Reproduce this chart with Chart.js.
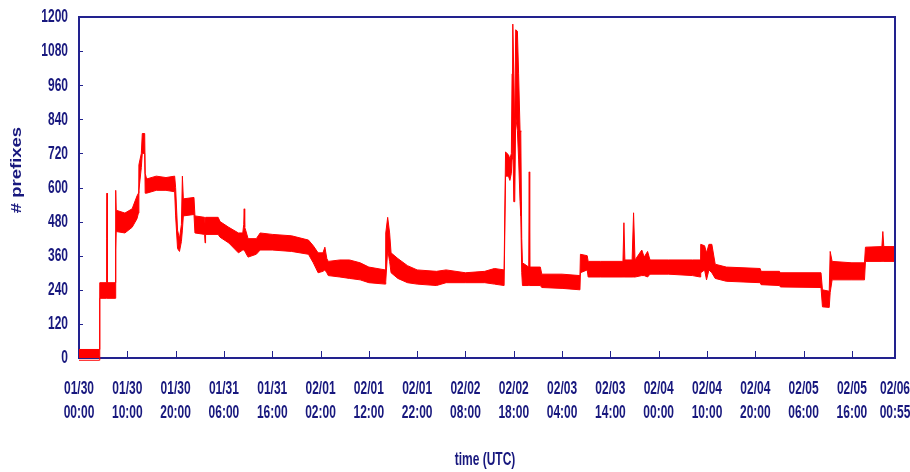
<!DOCTYPE html>
<html>
<head>
<meta charset="utf-8">
<script src="https://cdn.jsdelivr.net/npm/chart.js@4.4.0/dist/chart.umd.min.js"></script>
<style>
  html, body { margin: 0; padding: 0; background: #fff; }
  canvas { display: block; }
</style>
</head>
<body>
<canvas id="prefixChart" width="910" height="472"></canvas>
<script>
// hours since 01/30 00:00 UTC, with the top and bottom of the noisy band
const hours = [
  0, 4.2, 4.3, 5.7, 5.75, 5.8, 5.85, 7.5, 7.6, 7.7, 9.5, 11, 12, 12.3, 12.4, 12.9, 13.1, 13.6, 13.7,
  14, 16, 18, 19.8, 20.0, 20.4, 20.8, 21.2, 21.4, 21.6, 23.8, 24, 26, 26.1, 26.2, 28.8, 29.2, 31, 33, 33.9,
  34.1, 34.2, 34.3, 34.5, 35, 36.7, 37.5, 40, 44, 47.5, 48.5, 49.5, 50.5, 50.9, 51.3, 51.6, 54, 56, 58.2,
  60, 63.4, 63.5, 63.9, 64.3, 64.6, 66, 68, 70, 74, 76, 80, 84, 86, 88,
  88.3, 88.9, 89.2, 89.5, 89.65, 89.8, 90.0, 90.2, 90.4, 90.75, 91.0, 91.3, 91.45, 91.65, 91.8,
  93.1, 93.2, 93.3, 95.5, 95.8, 100, 103.7, 103.8, 105.2, 105.4, 108, 112.6, 112.8, 113,
  114.5, 114.8, 115.1, 116.5, 117.0, 117.7, 118.2, 122, 127, 128.6, 128.7, 129.5, 129.9, 130.4, 131, 131.7,
  134, 141, 141.2, 145, 145.2, 153.6, 153.9, 155.3, 155.5, 155.9, 160, 162.6, 162.8, 166.2, 166.4, 166.6, 168.9
];
const upper = [
  30, 30, 265, 265, 420, 580, 265, 265, 590, 520, 510, 525, 570, 580, 680, 720, 790, 790, 650,
  630, 640, 635, 640, 600, 450, 420, 470, 640, 560, 565, 500, 495, 470, 495, 495, 480, 460, 440, 440,
  470, 525, 460, 450, 420, 420, 440, 435, 430, 415, 395, 370, 370, 390, 350, 340, 345, 345, 335,
  320, 310, 440, 495, 440, 370, 350, 325, 310, 305, 310, 300, 305, 315, 310,
  725, 715, 700, 720, 1000, 1175, 1000, 800, 1155, 1150, 1000, 800, 795, 420, 335,
  320, 655, 320, 320, 295, 295, 290, 365, 360, 340, 340, 340, 476, 345,
  345, 511, 345, 380, 355, 375, 345, 345, 345, 345, 400, 395, 370, 400, 400, 330,
  320, 315, 305, 305, 300, 300, 240, 235, 375, 340, 335, 335, 390, 392, 445, 392, 392
];
const lower = [
  -8, -8, 210, 210, 210, 210, 210, 210, 380, 445, 440, 460, 490, 510, 590, 670, 720, 720, 580,
  580, 590, 590, 585, 500, 385, 375, 410, 450, 500, 505, 440, 435, 405, 435, 435, 425, 405, 370, 380,
  380, 380, 380, 370, 355, 365, 380, 380, 375, 365, 335, 300, 305, 310, 300, 290, 285, 280, 275,
  265, 260, 270, 380, 340, 300, 280, 265, 260, 255, 265, 265, 265, 260, 255,
  640, 640, 625, 650, 700, 800, 550, 550, 850, 800, 700, 550, 500, 300, 255,
  255, 255, 255, 255, 248, 245, 240, 300, 310, 285, 285, 285, 285, 285,
  285, 285, 285, 290, 290, 285, 295, 295, 290, 285, 300, 310, 275, 310, 300, 280,
  270, 265, 258, 255, 250, 248, 180, 178, 230, 275, 275, 275, 340, 340, 340, 340, 340
];

const xTickHours = [0, 10, 20, 30, 40, 50, 60, 70, 80, 90, 100, 110, 120, 130, 140, 150, 160, 168.9167];
const xTickLabels = [
  ['01/30', '00:00'], ['01/30', '10:00'], ['01/30', '20:00'], ['01/31', '06:00'], ['01/31', '16:00'],
  ['02/01', '02:00'], ['02/01', '12:00'], ['02/01', '22:00'], ['02/02', '08:00'], ['02/02', '18:00'],
  ['02/03', '04:00'], ['02/03', '14:00'], ['02/04', '00:00'], ['02/04', '10:00'], ['02/04', '20:00'],
  ['02/05', '06:00'], ['02/05', '16:00'], ['02/06', '00:55']
];
const yMax = 1200;
const yStep = 120;

const navy = '#18187e';
const axisColor = '#22228e';
const red = '#ff0000';
const labelFont = "bold 12px 'Liberation Sans', Arial, sans-serif";
const stretch = 1.6; // the original text is tall and narrow

const drawText = (ctx, text, x, y, align) => {
  ctx.save();
  ctx.translate(x, y);
  ctx.scale(1, stretch);
  ctx.textAlign = align;
  ctx.textBaseline = 'middle';
  ctx.fillText(text, 0, 0);
  ctx.restore();
};

// inside tick marks, top/right frame, tick labels and axis titles
const framePlugin = {
  id: 'frame',
  afterDraw(chart) {
    const ctx = chart.ctx;
    const area = chart.chartArea;
    const xs = chart.scales.x;
    const ys = chart.scales.y;
    ctx.save();
    ctx.strokeStyle = axisColor;
    ctx.lineWidth = 1;
    ctx.beginPath();
    xs.ticks.forEach((t, i) => {
      if (i === 0 || i === xs.ticks.length - 1) return;
      const px = Math.round(xs.getPixelForValue(t.value)) + 0.5;
      ctx.moveTo(px, area.bottom);
      ctx.lineTo(px, area.bottom - 7);
    });
    ys.ticks.forEach((t, i) => {
      if (i === 0 || i === ys.ticks.length - 1) return;
      const py = Math.round(ys.getPixelForValue(t.value)) + 0.5;
      ctx.moveTo(area.left, py);
      ctx.lineTo(area.left + 4, py);
    });
    ctx.stroke();

    ctx.lineWidth = 2;
    ctx.beginPath();
    ctx.moveTo(area.left - 1, area.top);
    ctx.lineTo(area.right, area.top);
    ctx.lineTo(area.right, area.bottom + 1);
    ctx.stroke();

    ctx.fillStyle = navy;
    ctx.font = labelFont;
    xs.ticks.forEach((t, i) => {
      const px = xs.getPixelForValue(t.value);
      drawText(ctx, xTickLabels[i][0], px, area.bottom + 31, 'center');
      drawText(ctx, xTickLabels[i][1], px, area.bottom + 55, 'center');
    });
    ys.ticks.forEach(t => {
      drawText(ctx, String(t.value), area.left - 11, ys.getPixelForValue(t.value), 'right');
    });
    drawText(ctx, 'time (UTC)', (area.left + area.right) / 2 - 2, 460, 'center');

    ctx.translate(17, 170);
    ctx.rotate(-Math.PI / 2);
    ctx.scale(1.32, 1);
    ctx.font = "bold 14px 'Liberation Sans', Arial, sans-serif";
    ctx.textAlign = 'center';
    ctx.textBaseline = 'middle';
    ctx.fillText('# prefixes', 0, 0);
    ctx.restore();
  }
};

const ctx = document.getElementById('prefixChart').getContext('2d');

const prefixChart = new Chart(ctx, {
  type: 'line',
  data: {
    datasets: [{
      label: 'max',
      data: hours.map((h, i) => ({ x: h, y: upper[i] })),
      borderColor: red,
      backgroundColor: red,
      borderWidth: 1,
      pointRadius: 0,
      tension: 0,
      fill: false,
      clip: false
    },
    {
      label: 'min',
      data: hours.map((h, i) => ({ x: h, y: lower[i] })),
      borderColor: red,
      backgroundColor: red,
      borderWidth: 1,
      pointRadius: 0,
      tension: 0,
      fill: '-1',
      clip: false
    }]
  },
  options: {
    responsive: false,
    animation: false,
    layout: { padding: { top: 17, right: 15, left: 0, bottom: 0 } },
    plugins: {
      legend: { display: false },
      tooltip: { enabled: false }
    },
    scales: {
      x: {
        type: 'linear',
        min: 0,
        max: xTickHours[xTickHours.length - 1],
        afterFit: s => { s.height = 114; s.paddingLeft = 0; s.paddingRight = 0; },
        afterBuildTicks: s => { s.ticks = xTickHours.map(v => ({ value: v })); },
        grid: { display: false, drawTicks: false },
        border: { display: true, color: axisColor, width: 2 },
        ticks: { display: false }
      },
      y: {
        min: 0,
        max: yMax,
        afterFit: s => { s.width = 79; s.paddingTop = 0; s.paddingBottom = 0; },
        grid: { display: false, drawTicks: false },
        border: { display: true, color: axisColor, width: 2 },
        ticks: { display: false, stepSize: yStep }
      }
    }
  },
  plugins: [framePlugin]
});
</script>
</body>
</html>
